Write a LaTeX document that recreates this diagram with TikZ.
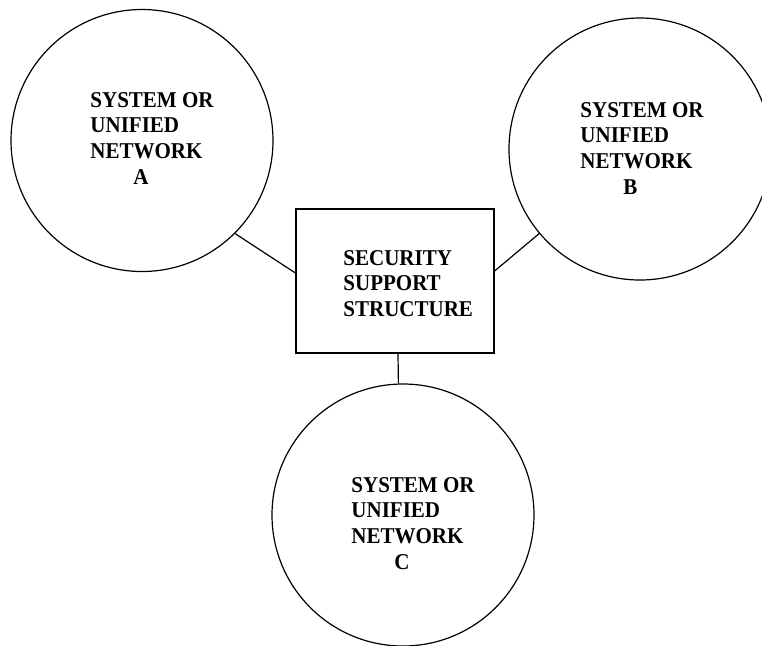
\documentclass[tikz,border=0pt]{standalone}
\usepackage{fontspec}
\setmainfont[FakeStretch=0.93]{Liberation Serif}
\usepackage{tikz}

\begin{document}
\begin{tikzpicture}[x=0.5pt,y=-0.5pt]
    % Styles for shapes, texts and lines
    \tikzset{
      network/.style={circle, draw=black, line width=0.6pt, minimum size=131pt, inner sep=0pt},
      support/.style={rectangle, draw=black, line width=0.6pt, minimum width=99pt, minimum height=72pt, inner sep=0pt},
      caption/.style={anchor=north west, inner sep=0pt, align=left, font=\fontsize{11.3}{12.8}\selectfont\bfseries},
      link/.style={line width=0.6pt}
    }
    \useasboundingbox (0,0) rectangle (762,645);

    % Shapes with explicit coordinates
    \node[network] (netA) at (142,140.5) {};
    \node[network] (netB) at (640,149) {};
    \node[network] (netC) at (403,515) {};
    \node[support] (sss) at (395,281) {};

    % Texts
    \node[caption] (txtA) at (90,92) {SYSTEM OR\\UNIFIED\\NETWORK\\\hspace*{21.5pt}A};
    \node[caption] (txtB) at (580,102) {SYSTEM OR\\UNIFIED\\NETWORK\\\hspace*{21.5pt}B};
    \node[caption] (txtC) at (351,477) {SYSTEM OR\\UNIFIED\\NETWORK\\\hspace*{21.5pt}C};
    \node[caption] (txtS) at (343,250) {SECURITY\\SUPPORT\\STRUCTURE};

    % Lines
    \draw[link] (netA.-45) -- ([yshift=4pt]sss.west);
    \draw[link] (netB.-140) -- ([yshift=5pt]sss.east);
    \draw[link] ([xshift=1.5pt]sss.south) -- (netC.92);

\end{tikzpicture}
\end{document}
